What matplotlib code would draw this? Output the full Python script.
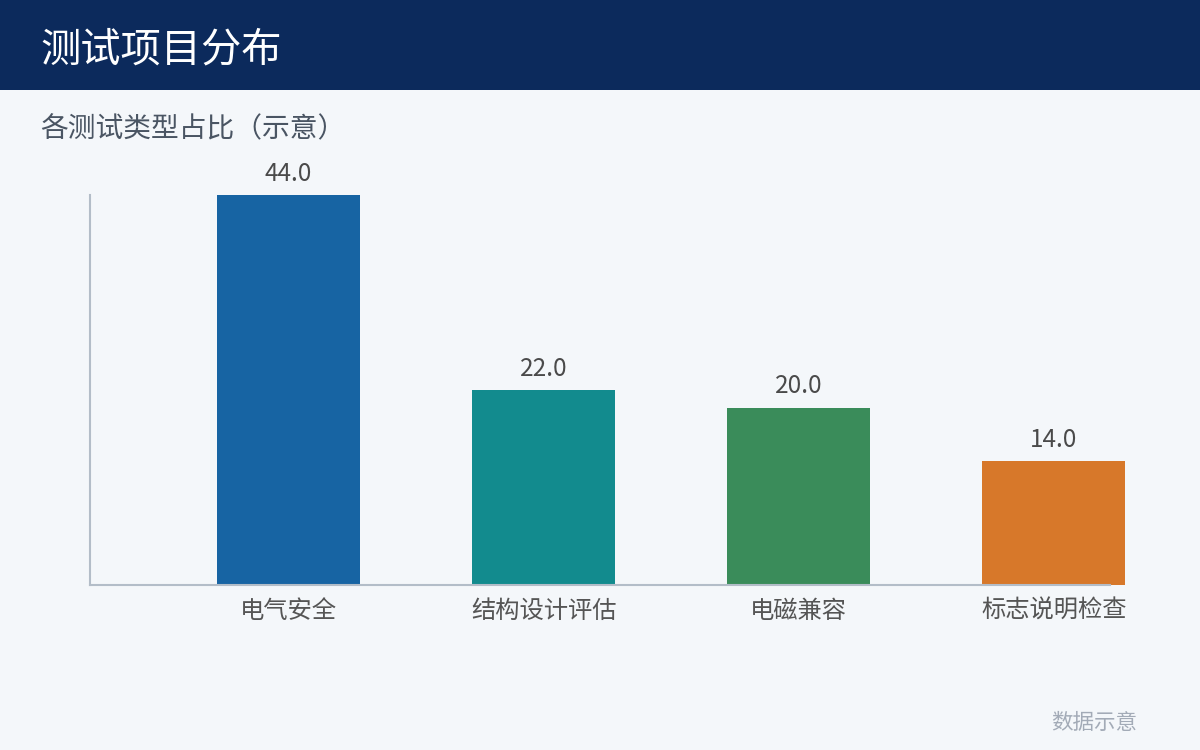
import matplotlib
matplotlib.use('Agg')
import matplotlib.pyplot as plt

plt.rcParams['font.family'] = ['Noto Sans CJK SC', 'DejaVu Sans']

categories = ['电气安全', '结构设计评估', '电磁兼容', '标志说明检查']
values = [44.0, 22.0, 20.0, 14.0]
colors = ['#1764a3', '#128b8e', '#3a8c5a', '#d7782a']

bg = '#f4f7fa'
fig = plt.figure(figsize=(12, 7.5), dpi=100, facecolor=bg)

# header band
fig.patches.append(plt.Rectangle((0, 1 - 90 / 750), 1, 90 / 750, transform=fig.transFigure,
                                 facecolor='#0c2a5c', edgecolor='none', zorder=0))
fig.text(40 / 1200, 1 - 50 / 750, '测试项目分布', color='white', fontsize=29,
         va='center', ha='left')
fig.text(40 / 1200, 1 - 129 / 750, '各测试类型占比（示意）', color='#4a5563', fontsize=20,
         va='center', ha='left')
fig.text(1137 / 1200, 1 - 723 / 750, '数据示意', color='#a3abb7', fontsize=15.5,
         va='center', ha='right')

ax = fig.add_axes([90 / 1200, 165 / 750, 1020 / 1200, 390 / 750])
ax.set_facecolor(bg)
x = list(range(len(categories)))
bars = ax.bar(x, values, width=0.56, color=colors, clip_on=False, zorder=2)
ax.set_xlim(-0.778, 3.22)
ax.set_ylim(0, 44)

for b, v in zip(bars, values):
    ax.annotate('{:.1f}'.format(v), (b.get_x() + b.get_width() / 2, v),
                xytext=(0, 6), textcoords='offset points', ha='center', va='bottom',
                fontsize=17.5, color='#4a4a4a')

ax.set_xticks(x)
ax.set_xticklabels(categories, fontsize=17.5, color='#555555')
ax.tick_params(axis='x', length=0, pad=9)
ax.set_yticks([])
for s in ['top', 'right']:
    ax.spines[s].set_visible(False)
for s in ['left', 'bottom']:
    ax.spines[s].set_color('#b3bdc8')
    ax.spines[s].set_linewidth(1.5)

fig.savefig('out.png', dpi=100, facecolor=bg)
